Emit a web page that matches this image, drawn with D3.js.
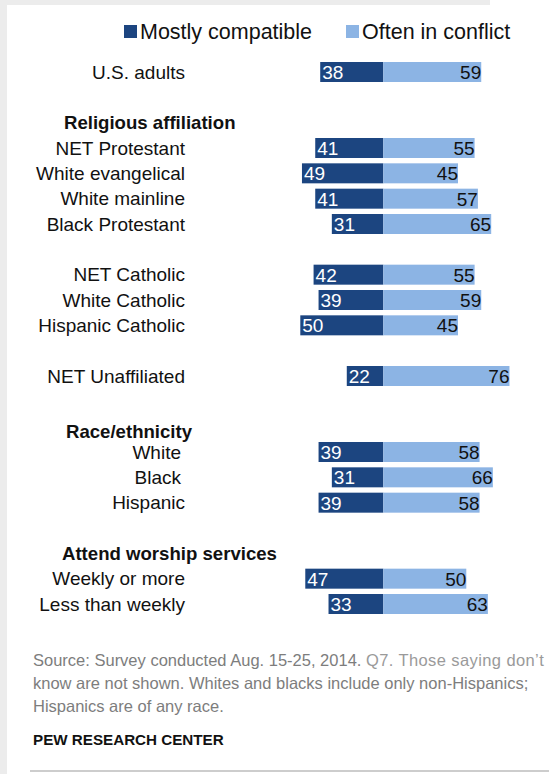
<!DOCTYPE html>
<html>
<head>
<meta charset="utf-8">
<script src="https://cdn.jsdelivr.net/npm/d3@7"></script>
<style>
  body { margin: 0; background: #ececec; }
  svg { display: block; font-family: "Liberation Sans", Arial, sans-serif; }
</style>
</head>
<body>
<div class="canvas"></div>
<script>
// data
const seriesNames = ['Mostly compatible', 'Often in conflict'];
const groupHeadings = [null, 'Religious affiliation', null, null, 'Race/ethnicity', 'Attend worship services'];
const groupCategories = [
    ['U.S. adults'],
    ['NET Protestant', 'White evangelical', 'White mainline', 'Black Protestant'],
    ['NET Catholic', 'White Catholic', 'Hispanic Catholic'],
    ['NET Unaffiliated'],
    ['White', 'Black', 'Hispanic'],
    ['Weekly or more', 'Less than weekly']
];
const compatible = [38, 41, 49, 41, 31, 42, 39, 50, 22, 39, 31, 39, 47, 33];
const conflict = [59, 55, 45, 57, 65, 55, 59, 45, 76, 58, 66, 58, 50, 63];

const colors = ['#1c4580', '#8cb4e4'];

// build row list: heading slot, item slots, blank slot between groups
const rows = [];
const headings = [];
let slot = 0, k = 0;
groupCategories.forEach((cats, g) => {
    if (groupHeadings[g]) headings.push({ name: groupHeadings[g], slot: slot++ });
    cats.forEach(c => {
        rows.push({ name: c, slot: slot++, group: g, a: compatible[k], b: conflict[k] });
        k++;
    });
    slot++; // gap
});

const width = 549, height = 774;

const svg = d3.select('.canvas')
    .append('svg')
    .attr('width', width)
    .attr('height', height);

// card background
svg.append('rect').attr('width', width).attr('height', height).attr('fill', '#ececec');
svg.append('rect').attr('x', 7).attr('y', 5).attr('width', width - 7).attr('height', height - 5).attr('fill', '#fff');
svg.append('rect').attr('x', 490).attr('y', 0).attr('width', width - 490).attr('height', 5).attr('fill', '#fff');

// scales
const xScale = d3.scaleLinear().domain([-100, 100]).range([217.3, 549.3]);
const yScale = d3.scalePoint().domain(d3.range(slot - 1)).range([72, 604]);
const barH = 20;

// legend
const legend = svg.append('g');
const legX = [124, 346];
seriesNames.forEach((s, i) => {
    legend.append('rect')
        .attr('x', legX[i]).attr('y', 25)
        .attr('width', 13).attr('height', 13)
        .attr('fill', colors[i]);
    legend.append('text')
        .attr('x', legX[i] + 16).attr('y', 31)
        .attr('dy', '0.35em')
        .attr('font-size', 21.5)
        .attr('fill', '#111')
        .text(s);
});

// group headings
svg.selectAll('text.heading')
    .data(headings)
    .enter().append('text')
    .attr('class', 'heading')
    .attr('x', d => d.name == 'Attend worship services' ? 62 : (d.name == 'Race/ethnicity' ? 66 : 64))
    .attr('y', d => yScale(d.slot) + (d.name == 'Race/ethnicity' ? 5 : 0))
    .attr('dy', '0.35em')
    .attr('font-size', 18.6)
    .attr('font-weight', 'bold')
    .attr('fill', '#111')
    .text(d => d.name);

// row labels
svg.selectAll('text.label')
    .data(rows)
    .enter().append('text')
    .attr('class', 'label')
    .attr('x', d => d.group == 4 && d.name != 'Hispanic' ? 181 : 185)
    .attr('y', d => yScale(d.slot))
    .attr('dy', '0.35em')
    .attr('text-anchor', 'end')
    .attr('font-size', 19)
    .attr('fill', '#111')
    .text(d => d.name);

// bars
const bars = svg.selectAll('g.row')
    .data(rows)
    .enter().append('g')
    .attr('class', 'row')
    .attr('transform', d => `translate(0, ${yScale(d.slot)})`);

bars.append('rect')
    .attr('x', d => xScale(-d.a))
    .attr('y', -barH / 2)
    .attr('width', d => xScale(0) - xScale(-d.a))
    .attr('height', barH)
    .attr('fill', colors[0]);

bars.append('rect')
    .attr('x', xScale(0))
    .attr('y', -barH / 2)
    .attr('width', d => xScale(d.b) - xScale(0))
    .attr('height', barH)
    .attr('fill', colors[1]);

bars.append('text')
    .attr('x', d => xScale(-d.a) + 2)
    .attr('dy', '0.36em')
    .attr('font-size', 19)
    .attr('fill', '#fff')
    .text(d => d.a);

bars.append('text')
    .attr('x', d => xScale(d.b))
    .attr('dy', '0.36em')
    .attr('text-anchor', 'end')
    .attr('font-size', 19)
    .attr('fill', '#111')
    .text(d => d.b);

// footnote
const note = svg.append('text')
    .attr('font-size', 16.5)
    .attr('fill', '#9a9a9a');
const l1 = note.append('tspan').attr('x', 33).attr('y', 666);
l1.append('tspan').attr('fill', '#7d7d7d').text('Source: Survey conducted Aug. 15-25, 2014. ');
l1.append('tspan').attr('letter-spacing', 0.4).text('Q7. Those saying don\u2019t');
note.append('tspan').attr('x', 33).attr('y', 689).attr('fill', '#7d7d7d')
    .text('know are not shown. Whites and blacks include only non-Hispanics;');
note.append('tspan').attr('x', 33).attr('y', 712).attr('fill', '#7d7d7d')
    .text('Hispanics are of any race.');

svg.append('text')
    .attr('x', 33).attr('y', 745)
    .attr('font-size', 15.2)
    .attr('font-weight', 'bold')
    .attr('fill', '#111')
    .text('PEW RESEARCH CENTER');

svg.append('line')
    .attr('x1', 30).attr('x2', width)
    .attr('y1', 771).attr('y2', 771)
    .attr('stroke', '#bdbdbd')
    .attr('stroke-width', 1.5);
</script>
</body>
</html>
